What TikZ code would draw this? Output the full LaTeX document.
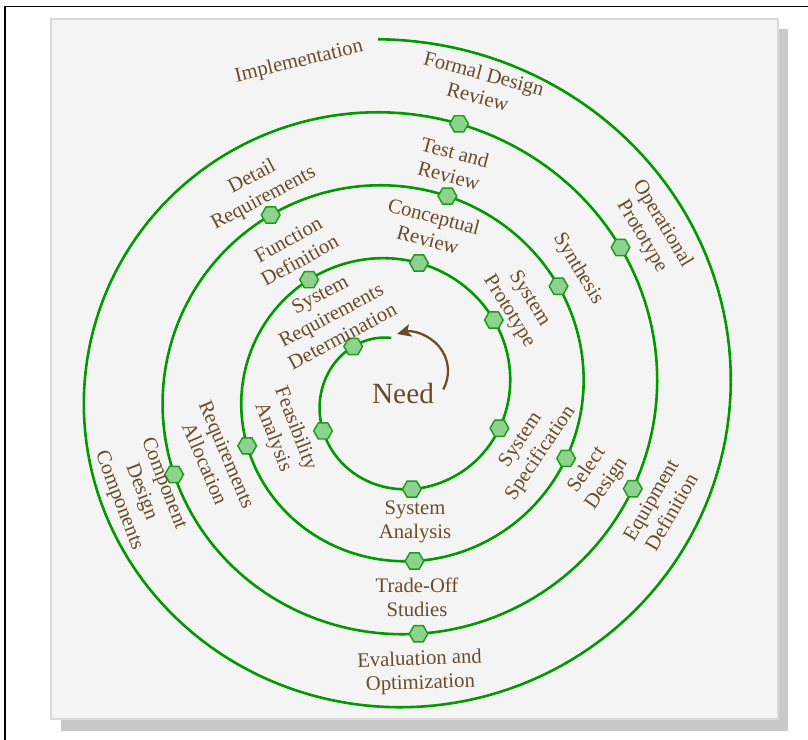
\documentclass[tikz,border=0pt]{standalone}
\usepackage{fontspec}
\setmainfont{Liberation Serif}
\usetikzlibrary{shapes.geometric,arrows.meta}
\definecolor{txtbrown}{HTML}{6B4B28}
\definecolor{spgreen}{HTML}{009900}
\definecolor{hexfill}{HTML}{8FD18F}
\definecolor{hexline}{HTML}{1A9E1A}
\definecolor{panelc}{HTML}{F4F4F4}
\definecolor{panelline}{HTML}{DADADA}
\definecolor{shadowc}{HTML}{C9C9C9}
\pgfmathdeclarefunction{spx}{1}{\pgfmathparse{398-0.0072*#1+(38+0.2118*#1)*cos(#1)}}
\pgfmathdeclarefunction{spy}{1}{\pgfmathparse{391.5+0.035*max(0,300-#1)-(41.5+0.203*#1)*sin(#1)}}
\tikzset{
  spiral/.style={draw=spgreen, line width=1.95pt},
  hexa/.style={regular polygon, regular polygon sides=6, minimum size=14pt, inner sep=0pt,
    fill=hexfill, draw=hexline, line width=1.1pt},
  lbl/.style={text=txtbrown, font=\fontsize{15.5}{18}\selectfont, align=center, inner sep=0pt},
  needlbl/.style={text=txtbrown, font=\fontsize{22}{26}\selectfont, inner sep=0pt},
  needarrow/.style={draw=txtbrown, line width=1.7pt, -{Stealth[length=10.5pt,width=9.5pt,inset=2.5pt]}},
}
\begin{document}
\begin{tikzpicture}[x=0.75pt,y=-0.75pt]
\useasboundingbox (0,0) rectangle (808,740);
\clip (0,0) rectangle (808,740);
% frame
\draw[black, line width=1pt] (5,900) -- (5,6.5) -- (900,6.5);
% panel
\fill[shadowc] (61,29) rectangle (788,731);
\draw[panelline, fill=panelc, line width=0.8pt] (51,19) rectangle (778,719);
% spiral
\draw[spiral] plot[domain=96:1531.4, samples=720, variable=\t] ({spx(\t)},{spy(\t)});
% hexagons
\foreach \n/\a in {1/131.7, 2/205.7, 3/279.4, 4/340.6, 5/395.9, 6/439.4, 7/487.2, 8/560.5,
  9/637, 10/698.6, 11/752.8, 12/794.5, 13/844, 14/921.3, 15/996.4, 16/1057.7, 17/1112.6, 18/1155.8}
  \node[hexa] (h\n) at ({spx(\a)},{spy(\a)}) {};
% labels
\node[lbl, rotate=13.5] (l1) at (299,62) {Implementation};
\node[lbl, rotate=-15] (l2) at (481,85) {Formal Design\\Review};
\node[lbl, rotate=-15] (l3) at (452,164) {Test and\\Review};
\node[lbl, rotate=-15] (l4) at (431,228) {Conceptual\\Review};
\node[lbl, rotate=-58] (l5) at (519,305) {System\\Prototype};
\node[lbl, rotate=-59] (l6) at (578,269) {Synthesis};
\node[lbl, rotate=-59] (l7) at (652,230) {Operational\\Prototype};
\node[lbl, rotate=60] (l8) at (661,506) {Equipment\\Definition};
\node[lbl, rotate=55] (l9) at (597,477) {Select\\Design};
\node[lbl, rotate=56] (l10) at (531,447) {System\\Specification};
\node[lbl] (l11) at (415,522) {System\\Analysis};
\node[lbl, rotate=-69] (l12) at (284,433) {Feasibility\\Analysis};
\node[lbl, rotate=-67] (l13) at (216,459) {Requirements\\Allocation};
\node[lbl, rotate=-69] (l14) at (141,492) {Component\\Design\\Components};
\node[lbl, rotate=2] (l15) at (420,672) {Evaluation and\\Optimization};
\node[lbl] (l16) at (417,597) {Trade-Off\\Studies};
\node[lbl, rotate=28] (l17) at (258,188) {Detail\\Requirements};
\node[lbl, rotate=29] (l18) at (294,250) {Function\\Definition};
\node[lbl, rotate=28] (l19) at (331,315) {System\\Requirements\\Determination};
\node[needlbl] (need) at (403,393) {Need};
% arrow
\coordinate (arrS) at (443.2,389.4);
\coordinate (arrE) at (397,334);
\draw[needarrow] (arrS) .. controls (450.9,375.5) and (449.3,358.8) .. (439.1,346.6)
  .. controls (428.9,334.4) and (412.6,329.9) .. (arrE);
\end{tikzpicture}
\end{document}
